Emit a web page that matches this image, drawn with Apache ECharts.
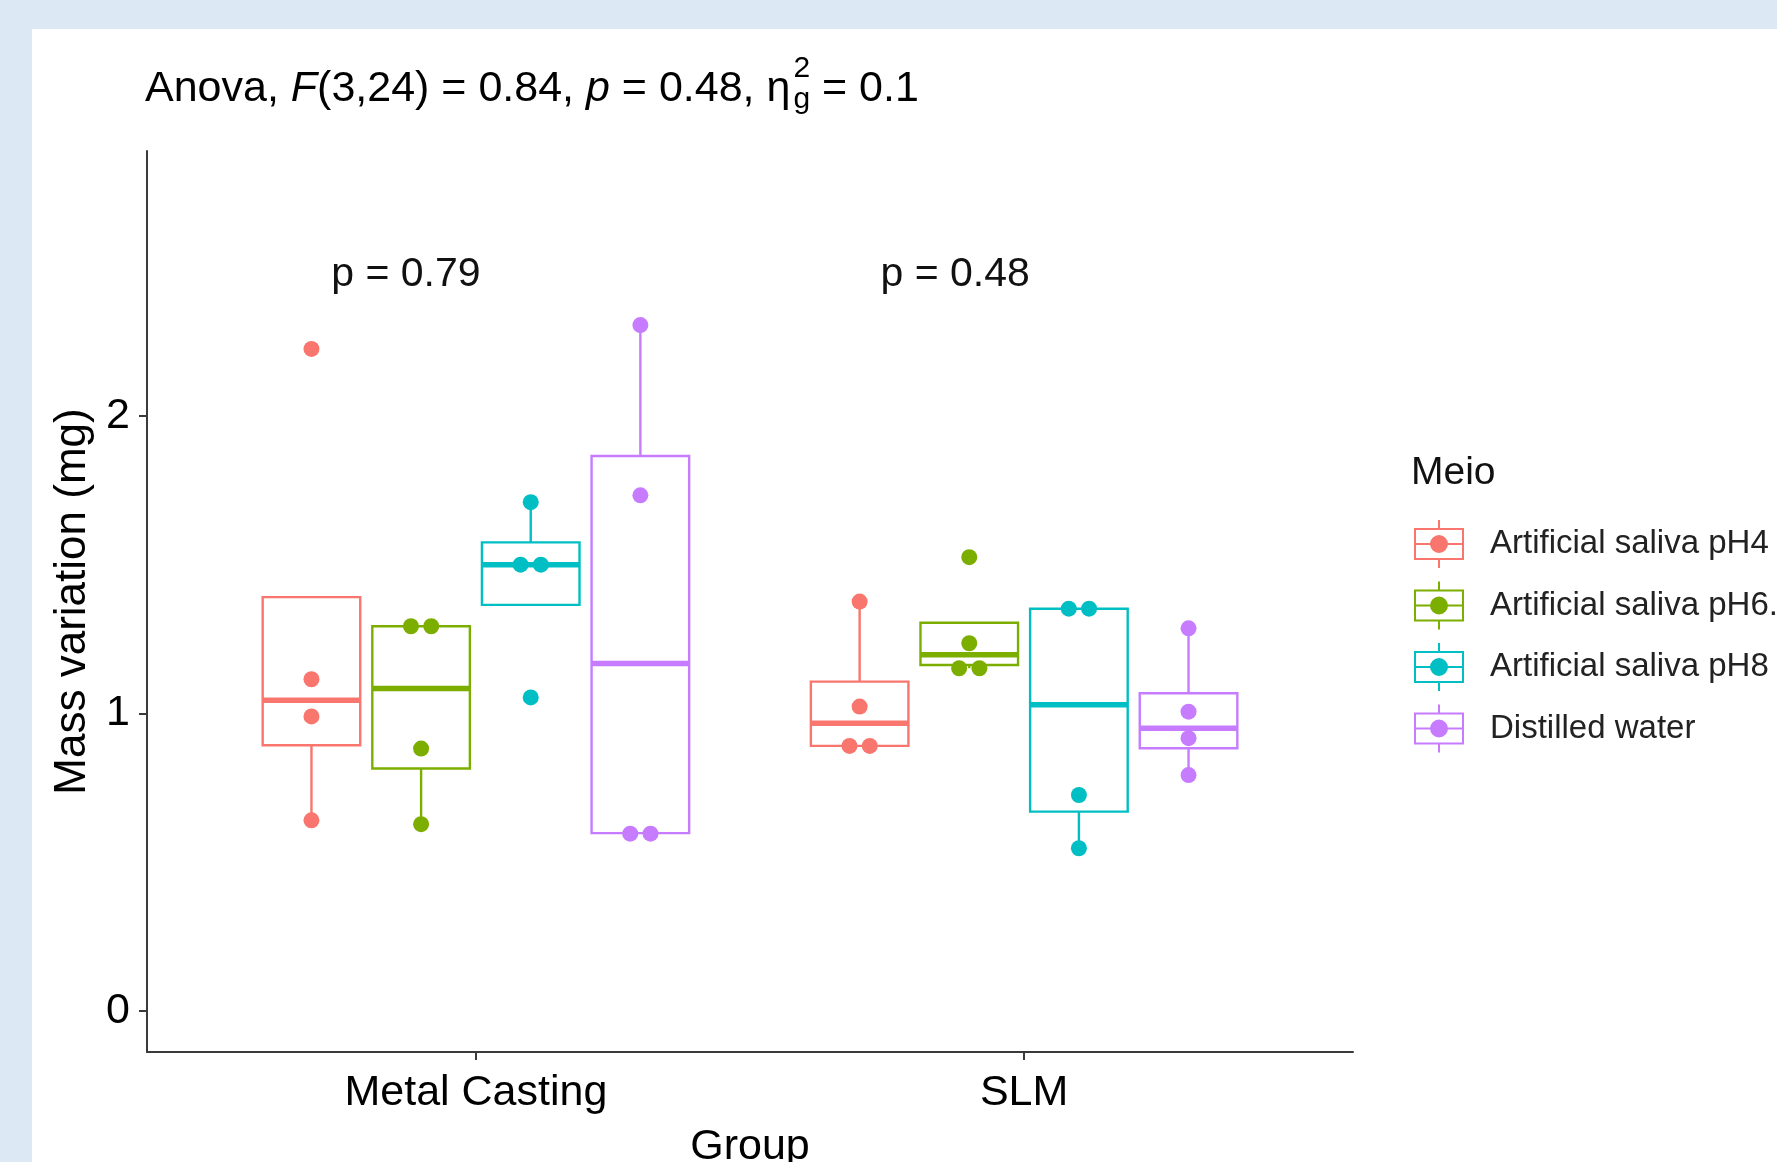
<!DOCTYPE html>
<html>
<head>
<meta charset="utf-8">
<script src="https://cdn.jsdelivr.net/npm/echarts@6/dist/echarts.min.js"></script>
<style>
html,body{margin:0;padding:0;background:#dce8f4;width:1777px;height:1162px;overflow:hidden;}
#panel{position:absolute;left:32px;top:29px;right:0;bottom:0;background:#ffffff;}
#chart{position:absolute;left:0;top:0;width:1777px;height:1162px;}
</style>
</head>
<body>
<div id="panel"></div>
<div id="chart"></div>
<script>
// ---------------- data ----------------
const groups = ['Metal Casting', 'SLM'];
const media = ['Artificial saliva pH4', 'Artificial saliva pH6.8', 'Artificial saliva pH8', 'Distilled water'];
const colors = ['#F8766D', '#7CAE00', '#00BFC4', '#C77CFF'];
const yTicks = [0, 1, 2];
const xTicks = [1, 2];

// box statistics per group [lower whisker, Q1, median, Q3, upper whisker]  (Metal Casting, SLM)
const boxPH4  = [[0.641, 0.893, 1.044, 1.391, 1.391], [0.891, 0.891, 0.967, 1.107, 1.376]];
const boxPH68 = [[0.628, 0.815, 1.084, 1.293, 1.293], [1.152, 1.163, 1.197, 1.305, 1.305]];
const boxPH8  = [[1.365, 1.365, 1.500, 1.575, 1.710], [0.547, 0.670, 1.029, 1.352, 1.352]];
const boxDW   = [[0.596, 0.598, 1.168, 1.865, 2.305], [0.793, 0.883, 0.950, 1.068, 1.286]];

// observations [group index, value, side-by-side slot]
const ptsPH4  = [[0, 2.225, 0], [0, 1.115, 0], [0, 0.990, 0], [0, 0.641, 0],
                 [1, 1.376, 0], [1, 1.023, 0], [1, 0.891, -1], [1, 0.891, 1]];
const ptsPH68 = [[0, 1.293, -1], [0, 1.293, 1], [0, 0.882, 0], [0, 0.628, 0],
                 [1, 1.525, 0], [1, 1.236, 0], [1, 1.152, -1], [1, 1.152, 1]];
const ptsPH8  = [[0, 1.710, 0], [0, 1.500, -1], [0, 1.500, 1], [0, 1.054, 0],
                 [1, 1.352, -1], [1, 1.352, 1], [1, 0.726, 0], [1, 0.547, 0]];
const ptsDW   = [[0, 2.305, 0], [0, 1.733, 0], [0, 0.596, -1], [0, 0.596, 1],
                 [1, 1.286, 0], [1, 1.006, 0], [1, 0.917, 0], [1, 0.793, 0]];

// per-group comparison labels [x (left edge), y, text]
const pLabels = [[0.736, 2.475, 'p = 0.79'], [1.738, 2.475, 'p = 0.48']];

// ---------------- layout constants ----------------
const boxes = [boxPH4, boxPH68, boxPH8, boxDW];
const points = [ptsPH4, ptsPH68, ptsPH8, ptsDW];
const DODGE = [-0.3, -0.1, 0.1, 0.3];
const BOX_W = 0.178;
const DOT_GAP = 0.0185;
const FAM = '"Liberation Sans", Arial, Helvetica, sans-serif';

const ICON = 'path://M0 8 L50 8 L50 40 L0 40 Z M2 10 L2 38 L48 38 L48 10 Z ' +
  'M2 23 L48 23 L48 25 L2 25 Z M24 0 L26 0 L26 8 L24 8 Z M24 40 L26 40 L26 48 L24 48 Z ' +
  'M16 24 A9 9 0 1 1 34 24 A9 9 0 1 1 16 24 Z';

// ---------------- title layout (measured text) ----------------
const ctx = document.createElement('canvas').getContext('2d');
function tw(t, size, style) {
  ctx.font = (style || 'normal') + ' ' + size + 'px ' + FAM;
  return ctx.measureText(t).width;
}
const TS = 43, SS = 30, TY = 89.5;
const titleEls = [];
let cx = 145;
[['Anova, ', 'normal'], ['F', 'italic'], ['(3,24) = 0.84, ', 'normal'], ['p', 'italic'],
 [' = 0.48, ', 'normal'], ['\u03b7', 'normal']].forEach(function (s) {
  titleEls.push({type: 'text', x: cx, y: TY, silent: true,
    style: {text: s[0], fontSize: TS, fontStyle: s[1], fontFamily: FAM, fill: '#000',
            align: 'left', verticalAlign: 'middle'}});
  cx += tw(s[0], TS, s[1]);
});
const sx = cx + 3;
titleEls.push({type: 'text', x: sx, y: TY - 21, silent: true,
  style: {text: '2', fontSize: SS, fontFamily: FAM, fill: '#000', align: 'left', verticalAlign: 'middle'}});
titleEls.push({type: 'text', x: sx, y: TY + 10, silent: true,
  style: {text: 'g', fontSize: SS, fontFamily: FAM, fill: '#000', align: 'left', verticalAlign: 'middle'}});
cx = sx + Math.max(tw('2', SS), tw('g', SS));
titleEls.push({type: 'text', x: cx, y: TY, silent: true,
  style: {text: ' = 0.1', fontSize: TS, fontFamily: FAM, fill: '#000', align: 'left', verticalAlign: 'middle'}});
titleEls.push({type: 'text', x: 1411, y: 473, silent: true,
  style: {text: 'Meio', fontSize: 39, fontFamily: FAM, fill: '#111', align: 'left', verticalAlign: 'middle'}});

// ---------------- series ----------------
function renderBox(params, api) {
  const x = api.value(0);
  const lo = api.coord([x, api.value(1)]);
  const q1 = api.coord([x, api.value(2)]);
  const md = api.coord([x, api.value(3)]);
  const q3 = api.coord([x, api.value(4)]);
  const hi = api.coord([x, api.value(5)]);
  const half = api.size([BOX_W, 0])[0] / 2;
  const c = api.visual('color');
  const ls = {stroke: c, lineWidth: 2.4, fill: null};
  return {
    type: 'group',
    children: [
      {type: 'line', shape: {x1: q3[0], y1: q3[1], x2: hi[0], y2: hi[1]}, style: ls},
      {type: 'line', shape: {x1: lo[0], y1: lo[1], x2: q1[0], y2: q1[1]}, style: ls},
      {type: 'rect', shape: {x: q3[0] - half, y: q3[1], width: half * 2, height: q1[1] - q3[1]},
       style: {stroke: c, lineWidth: 2.4, fill: '#ffffff'}},
      {type: 'line', shape: {x1: md[0] - half, y1: md[1], x2: md[0] + half, y2: md[1]},
       style: {stroke: c, lineWidth: 5.5}}
    ]
  };
}

const series = [];
media.forEach(function (name, i) {
  series.push({
    name: name, type: 'custom', z: 2, renderItem: renderBox,
    itemStyle: {color: colors[i]},
    encode: {x: 0, y: [1, 2, 3, 4, 5]},
    data: boxes[i].map(function (b, g) { return [g + 1 + DODGE[i]].concat(b); })
  });
});
media.forEach(function (name, i) {
  series.push({
    name: name, type: 'scatter', z: 3, symbol: 'circle', symbolSize: 16,
    itemStyle: {color: colors[i], opacity: 1},
    data: points[i].map(function (p) { return [p[0] + 1 + DODGE[i] + p[2] * DOT_GAP, p[1]]; })
  });
});
series.push({
  name: 'pvalues', type: 'custom', z: 4,
  renderItem: function (params, api) {
    const pt = api.coord([api.value(0), api.value(1)]);
    return {type: 'text', x: pt[0], y: pt[1],
      style: {text: pLabels[params.dataIndex][2], fontSize: 41, fontFamily: FAM, fill: '#111',
              align: 'left', verticalAlign: 'middle'}};
  },
  data: pLabels.map(function (p) { return [p[0], p[1]]; })
});

const chart = echarts.init(document.getElementById('chart'), null, {renderer: 'canvas'});
chart.setOption({
  animation: false,
  backgroundColor: 'transparent',
  graphic: {elements: titleEls},
  grid: {left: 147, right: 424, top: 151, bottom: 110, containLabel: false, outerBoundsMode: 'none'},
  legend: {
    orient: 'vertical', left: 1414, top: 520, padding: 0,
    itemWidth: 50, itemHeight: 48, itemGap: 13.5,
    selectedMode: false,
    data: media.map(function (n) { return {name: n, icon: ICON}; }),
    itemStyle: {borderWidth: 0},
    textStyle: {fontSize: 33, fontFamily: FAM, color: '#222', padding: [6, 0, 0, 21]}
  },
  xAxis: {
    type: 'value', min: 0.4, max: 2.6,
    axisLine: {show: true, onZero: false, lineStyle: {color: '#3a3a3a', width: 2}},
    axisTick: {show: true, customValues: xTicks, length: 8, lineStyle: {color: '#3a3a3a', width: 2}},
    axisLabel: {customValues: xTicks, formatter: function (v) { return groups[Math.round(v) - 1]; },
                fontSize: 43, fontFamily: FAM, color: '#000', margin: 20},
    splitLine: {show: false},
    name: 'Group', nameLocation: 'middle', nameGap: 74,
    nameTextStyle: {fontSize: 43, fontFamily: FAM, color: '#000'}
  },
  yAxis: {
    type: 'value', min: -0.1376, max: 2.89,
    axisLine: {show: true, onZero: false, lineStyle: {color: '#3a3a3a', width: 2}},
    axisTick: {show: true, customValues: yTicks, length: 8, lineStyle: {color: '#3a3a3a', width: 2}},
    axisLabel: {customValues: yTicks, fontSize: 43, fontFamily: FAM, color: '#000', margin: 17},
    splitLine: {show: false},
    name: 'Mass variation (mg)', nameLocation: 'middle', nameGap: 43, nameRotate: 90,
    nameTextStyle: {fontSize: 44, fontFamily: FAM, color: '#000'}
  },
  series: series
});
</script>
</body>
</html>
